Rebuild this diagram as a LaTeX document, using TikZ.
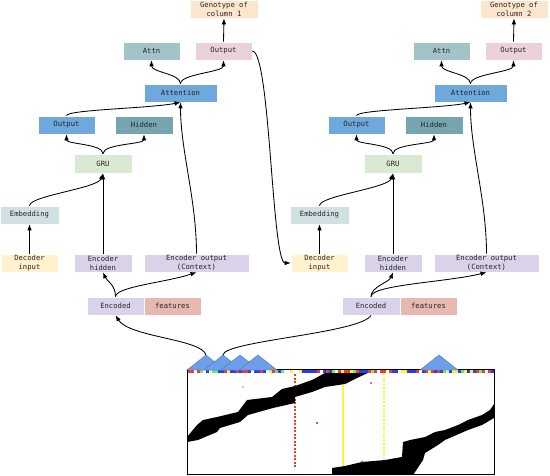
\documentclass[tikz,border=0pt]{standalone}
\usepackage{fontspec}
\setmonofont{DejaVu Sans Mono}
\usetikzlibrary{arrows.meta}
\definecolor{cGeno}{HTML}{FCE5CD}
\definecolor{cAttn}{HTML}{A2C4C9}
\definecolor{cPink}{HTML}{EAD1DC}
\definecolor{cBlue}{HTML}{6FA8DC}
\definecolor{cHid}{HTML}{76A5AF}
\definecolor{cGru}{HTML}{D9EAD3}
\definecolor{cEmb}{HTML}{D0E0E3}
\definecolor{cDec}{HTML}{FFF2CC}
\definecolor{cEnc}{HTML}{D9D2E9}
\definecolor{cFeat}{HTML}{E6B8AF}
\definecolor{cTri}{HTML}{6D9EEB}
\definecolor{hRed}{HTML}{F03A2E}
\definecolor{hBlue}{HTML}{2A3CF0}
\definecolor{hGreen}{HTML}{6EE86E}
\definecolor{hYel}{HTML}{FFF23A}
\begin{document}
\begin{tikzpicture}[x=1pt,y=-1pt,
  box/.style={draw=white, line width=0.6pt, inner sep=0pt, minimum height=18pt,
    font=\ttfamily\fontsize{7.2}{9}\selectfont, text=black!85, align=center},
  arr/.style={-{Latex[length=6pt,width=4.6pt]}, line width=0.85pt},
  ln/.style={line width=0.85pt}]
\useasboundingbox (0,0) rectangle (550,475);

% ---------- decoder columns ----------
\foreach \s/\dx in {1/0,2/290}{
  \node[box,fill=cGeno,minimum width=68pt] (geno\s) at (224+\dx,9) {Genotype of\\column \s};
  \node[box,fill=cAttn,minimum width=57pt] (attn\s) at (151.5+\dx,51) {Attn};
  \node[box,fill=cPink,minimum width=57pt] (outp\s) at (223.5+\dx,51) {Output};
  \node[box,fill=cBlue,minimum width=73pt] (att\s) at (180.5+\dx,93) {Attention};
  \node[box,fill=cBlue,minimum width=57pt] (outb\s) at (66.5+\dx,125) {Output};
  \node[box,fill=cHid,minimum width=58pt] (hid\s) at (144+\dx,125) {Hidden};
  \node[box,fill=cGru,minimum width=58pt,minimum height=19pt] (gru\s) at (103+\dx,163.5) {GRU};
  \node[box,fill=cEmb,minimum width=59pt] (emb\s) at (29.5+\dx,215) {Embedding};
  \node[box,fill=cDec,minimum width=57pt] (dec\s) at (29.5+\dx,263) {Decoder\\input};
  \node[box,fill=cEnc,minimum width=58pt] (ench\s) at (103+\dx,263) {Encoder\\hidden};
  \node[box,fill=cEnc,minimum width=105pt] (enco\s) at (196.5+\dx,263) {Encoder output\\(Context)};
  % connectors
  \draw[arr] (dec\s.north) -- (emb\s.south);
  \draw[arr] (emb\s.north) .. controls +(0,-10) and +(-5,15) .. (gru\s.south);
  \draw[arr] (ench\s.north) -- (gru\s.south);
  \draw[arr] (gru\s.north) .. controls +(0,-10) and +(0,10) .. (outb\s.south);
  \draw[arr] (gru\s.north) .. controls +(0,-10) and +(0,10) .. (hid\s.south);
  \draw[arr] (outb\s.north) .. controls +(0,-6) and +(-30,6) .. (att\s.south);
  \draw[arr] (enco\s.north) .. controls +(0,-54) and +(0,48) .. (att\s.south);
  \draw[arr] (att\s.north) .. controls +(0,-10) and +(0,12) .. (attn\s.south);
  \draw[arr] (att\s.north) .. controls +(0,-10) and +(0,12) .. (outp\s.south);
  \draw[arr] (outp\s.north) -- (geno\s.south);
}

% ---------- encoded features ----------
\node[box,fill=cEnc,minimum width=57pt] (encd1) at (115.5,306) {Encoded};
\node[box,fill=cFeat,minimum width=57pt] (feat1) at (172.5,306) {features};
\node[box,fill=cEnc,minimum width=58pt] (encd2) at (371,306) {Encoded};
\node[box,fill=cFeat,minimum width=57pt] (feat2) at (428.5,306) {features};

\draw[arr] (encd1.north) .. controls +(0,-12) and +(4,9) .. (ench1.south);
\draw[arr] (encd1.north) .. controls +(0,-10) and +(-30,10) .. (enco1.south);
\draw[arr] (encd2.north) .. controls +(0,-10) and +(-4,10) .. (ench2.south);
\draw[arr] (encd2.north) .. controls +(0,-12) and +(-40,10) .. (enco2.south);

\draw[arr] (outp1.east) .. controls +(18,0) and +(-19,0) .. (dec2.west);

% ---------- heatmap ----------
\begin{scope}
  \clip (187,369) rectangle (494,474);
  \fill[white] (187,369) rectangle (494,474);
  \draw[hRed, line width=1.3pt, dash pattern=on 2pt off 1.5pt] (295,374) -- (295,467);
  \draw[hYel, line width=2pt] (343,385) -- (343,468);
  \draw[hYel, line width=1.5pt, dash pattern=on 2pt off 1.5pt] (384,373) -- (384,460);
  \fill[black] (187,437) -- (197,425) -- (203,420) -- (217,417) -- (238,412) -- (247,400)
    -- (272,397) -- (282,389) -- (295,386) -- (312,380) -- (325,373) -- (328,371)
    -- (372,371) -- (357,378) -- (345,384) -- (325,387) -- (312,392) -- (295,397)
    -- (295,403) -- (273,408) -- (248,415) -- (240,422) -- (220,428) -- (217,432)
    -- (205,437) -- (198,440) -- (187,442) -- cycle;
  \fill[black] (332,475) -- (332,468) -- (345,466) -- (362,462) -- (385,460) -- (402,457)
    -- (403,442) -- (410,440) -- (425,437) -- (435,432) -- (445,430) -- (458,425)
    -- (468,420) -- (482,415) -- (490,410) -- (494,404) -- (494,418) -- (482,425)
    -- (468,430) -- (445,440) -- (438,445) -- (425,453) -- (423,460) -- (415,472)
    -- (413,475) -- cycle;
  \fill[hRed] (371,383) circle (1.2pt);
  \fill[hGreen] (243,387) circle (1.2pt);
  \fill[hBlue] (317,423) circle (1.2pt);
  \fill[hBlue] (362,462) circle (1.2pt);
  \pgfmathsetseed{7}
  \foreach \i in {0,...,101}{
    \pgfmathrandominteger{\c}{0}{6}
    \ifcase\c \def\cc{hRed}\or \def\cc{hBlue}\or \def\cc{hGreen}\or \def\cc{hYel}\or \def\cc{white}\or \def\cc{hBlue}\else \def\cc{hRed}\fi
    \fill[\cc] (188+3*\i,370) rectangle ++(3,3);
  }
\end{scope}
\draw[line width=0.8pt] (187,369) rectangle (494,474);

% ---------- triangles ----------
\foreach \ax in {206,223,240,258,439}{
  \filldraw[fill=cTri, draw=cTri!75!black, line width=0.4pt] (\ax-19,370) -- (\ax,355) -- (\ax+19,370) -- cycle;
}
\coordinate (t1) at (206,355);
\coordinate (t2) at (223,355);
\draw[arr] (t1) .. controls +(-4,-16) and +(14,22) .. (encd1.south);
\draw[ln] (t2) .. controls +(0,-14) and +(-10,18) .. (encd2.south);
\end{tikzpicture}
\end{document}
